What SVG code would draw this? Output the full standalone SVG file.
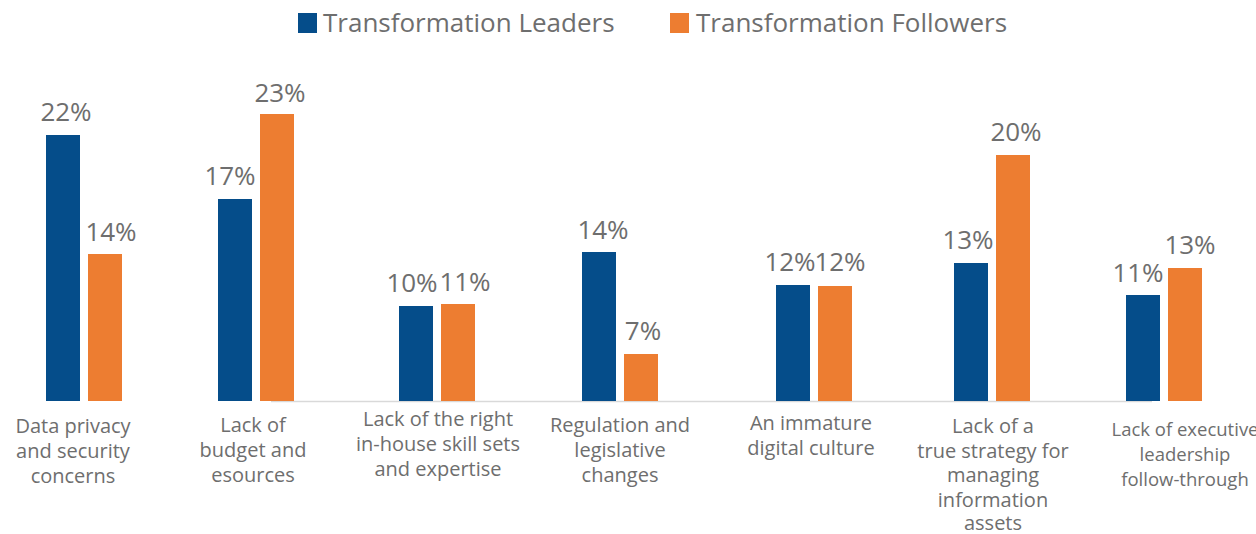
<svg xmlns="http://www.w3.org/2000/svg" width="1256" height="534" viewBox="0 0 1256 534">
<style>
.b{fill:#054d8a}
.o{fill:#ed7d31}
.v{font-family:"Open Sans","Liberation Sans",sans-serif;font-size:26px;fill:#6e6e6e;text-anchor:middle}
.c{font-family:"Open Sans","Liberation Sans",sans-serif;font-size:20px;fill:#6e6e6e;text-anchor:middle}
.l{font-family:"Open Sans","Liberation Sans",sans-serif;font-size:26px;fill:#6e6e6e}
</style>
<rect width="1256" height="534" fill="#ffffff"/>
<g id="legend">
<rect class="b" x="298" y="13" width="19" height="20"/>
<text class="l" x="323" y="32">Transformation Leaders</text>
<rect class="o" x="670" y="13" width="19" height="20"/>
<text class="l" x="696" y="32">Transformation Followers</text>
</g>
<g id="axis">
<line x1="271" y1="401.5" x2="1152" y2="401.5" stroke="#d9d9d9" stroke-width="1.5"/>
</g>
<g id="cat1">
<rect class="b" x="46" y="135" width="34" height="266"/>
<rect class="o" x="88" y="254" width="34" height="147"/>
<text class="v" x="66" y="121">22%</text>
<text class="v" x="111" y="241">14%</text>
<text class="c" x="73"><tspan x="73" y="433">Data privacy</tspan><tspan x="73" y="458">and security</tspan><tspan x="73" y="483">concerns</tspan></text>
</g>
<g id="cat2">
<rect class="b" x="218" y="199" width="34" height="202"/>
<rect class="o" x="260" y="114" width="34" height="287"/>
<text class="v" x="230" y="185">17%</text>
<text class="v" x="280" y="102">23%</text>
<text class="c" x="253"><tspan x="253" y="432">Lack of</tspan><tspan x="253" y="457">budget and</tspan><tspan x="253" y="482">esources</tspan></text>
</g>
<g id="cat3">
<rect class="b" x="399" y="306" width="34" height="95"/>
<rect class="o" x="441" y="304" width="34" height="97"/>
<text class="v" x="412" y="292">10%</text>
<text class="v" x="465" y="291">11%</text>
<text class="c" x="438"><tspan x="438" y="426">Lack of the right</tspan><tspan x="438" y="451">in-house skill sets</tspan><tspan x="438" y="476">and expertise</tspan></text>
</g>
<g id="cat4">
<rect class="b" x="582" y="252" width="34" height="149"/>
<rect class="o" x="624" y="354" width="34" height="47"/>
<text class="v" x="603" y="239">14%</text>
<text class="v" x="643" y="340">7%</text>
<text class="c" x="620"><tspan x="620" y="432">Regulation and</tspan><tspan x="620" y="457">legislative</tspan><tspan x="620" y="482">changes</tspan></text>
</g>
<g id="cat5">
<rect class="b" x="776" y="285" width="34" height="116"/>
<rect class="o" x="818" y="286" width="34" height="115"/>
<text class="v" x="790" y="271">12%</text>
<text class="v" x="840" y="271">12%</text>
<text class="c" x="811"><tspan x="811" y="430">An immature</tspan><tspan x="811" y="455">digital culture</tspan></text>
</g>
<g id="cat6">
<rect class="b" x="954" y="263" width="34" height="138"/>
<rect class="o" x="996" y="155" width="34" height="246"/>
<text class="v" x="968" y="249">13%</text>
<text class="v" x="1016" y="141">20%</text>
<text class="c" x="993"><tspan x="993" y="433">Lack of a</tspan><tspan x="993" y="457.5">true strategy for</tspan><tspan x="993" y="482">managing</tspan><tspan x="993" y="506.5">information</tspan><tspan x="993" y="530">assets</tspan></text>
</g>
<g id="cat7">
<rect class="b" x="1126" y="295" width="34" height="106"/>
<rect class="o" x="1168" y="268" width="34" height="133"/>
<text class="v" x="1138" y="282">11%</text>
<text class="v" x="1190" y="254">13%</text>
<text class="c" x="1185" style="font-size:18.5px"><tspan x="1185" y="436">Lack of executive</tspan><tspan x="1185" y="461">leadership</tspan><tspan x="1185" y="486">follow-through</tspan></text>
</g>
</svg>
